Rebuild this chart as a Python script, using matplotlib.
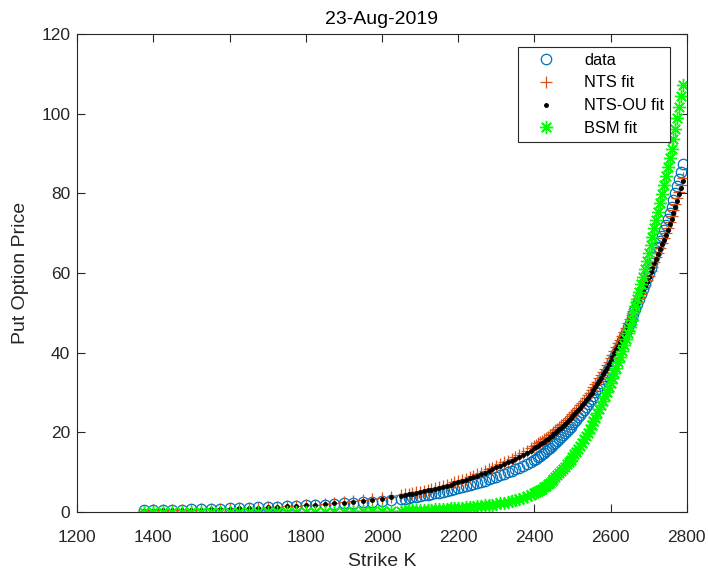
import numpy as np
import matplotlib
matplotlib.use("Agg")
import matplotlib.pyplot as plt

plt.rcParams["font.family"] = ["Liberation Sans", "DejaVu Sans"]

# Strike grid: 25-point spacing in the wings, 10 then 5 closer to the money
strikes_wing = [1375, 1400, 1425, 1450, 1475, 1500, 1525, 1550, 1575, 1600,
                1625, 1650, 1675, 1700, 1725, 1750, 1775, 1800, 1825, 1850,
                1875, 1900, 1925, 1950, 1975, 2000, 2025, 2050]
strikes_mid = list(range(2060, 2401, 10))
strikes_near = list(range(2405, 2791, 5))
strike = np.array(strikes_wing + strikes_mid + strikes_near, dtype=float)

# Market put prices
price_data = [
    0.45, 0.50, 0.54, 0.58, 0.63, 0.68, 0.74, 0.80, 0.87, 0.94,
    1.01, 1.08, 1.16, 1.25, 1.34, 1.44, 1.54, 1.65, 1.77, 1.89,
    2.02, 2.16, 2.30, 2.45, 2.61, 2.78, 2.98, 3.20,
    3.35, 3.50, 3.66, 3.83, 4.00, 4.17, 4.34, 4.52, 4.71, 4.90,
    5.10, 5.31, 5.53, 5.76, 6.00, 6.24, 6.49, 6.75, 7.02, 7.30,
    7.59, 7.89, 8.21, 8.54, 8.90, 9.24, 9.60, 9.97, 10.35, 10.75,
    11.16, 11.59, 12.04, 12.51, 13.00,
    13.36, 13.73, 14.11, 14.50, 14.90, 15.30, 15.71, 16.13, 16.56, 17.00,
    17.45, 17.91, 18.38, 18.86, 19.35, 19.86, 20.38, 20.91, 21.45, 22.00,
    22.57, 23.16, 23.77, 24.40, 25.05, 25.70, 26.37, 27.06, 27.77, 28.50,
    29.25, 30.02, 30.81, 31.63, 32.47, 33.33, 34.21, 35.12, 36.05, 37.00,
    37.97, 38.96, 39.97, 41.00, 42.05, 43.10, 44.17, 45.26, 46.37, 47.50,
    48.66, 49.84, 51.04, 52.26, 53.50, 54.76, 56.04, 57.34, 58.66, 60.00,
    61.30, 62.61, 63.93, 65.26, 66.60, 67.96, 69.33, 70.71, 72.10, 73.50,
    75.05, 76.65, 78.30, 80.00, 81.76, 83.58, 85.46, 87.40,
]

# NTS model prices
price_nts = [
    0.36, 0.40, 0.44, 0.49, 0.54, 0.59, 0.65, 0.72, 0.79, 0.87,
    0.95, 1.03, 1.12, 1.22, 1.33, 1.46, 1.59, 1.73, 1.89, 2.07,
    2.25, 2.45, 2.67, 2.92, 3.19, 3.48, 3.83, 4.24,
    4.42, 4.59, 4.77, 4.96, 5.16, 5.38, 5.60, 5.84, 6.08, 6.33,
    6.59, 6.87, 7.15, 7.45, 7.76, 8.08, 8.41, 8.76, 9.12, 9.49,
    9.88, 10.29, 10.71, 11.15, 11.61, 12.04, 12.48, 12.93, 13.40, 13.89,
    14.39, 14.91, 15.45, 16.01, 16.59,
    16.91, 17.23, 17.56, 17.90, 18.25, 18.60, 18.96, 19.33, 19.71, 20.10,
    20.50, 20.91, 21.33, 21.76, 22.20, 22.66, 23.13, 23.61, 24.10, 24.60,
    25.12, 25.66, 26.22, 26.80, 27.40, 28.00, 28.62, 29.26, 29.92, 30.60,
    31.30, 32.02, 32.76, 33.53, 34.32, 35.13, 35.96, 36.82, 37.70, 38.60,
    39.50, 40.42, 41.36, 42.32, 43.30, 44.28, 45.28, 46.30, 47.34, 48.40,
    49.44, 50.50, 51.57, 52.65, 53.74, 54.83, 55.93, 57.04, 58.16, 59.30,
    60.44, 61.60, 62.77, 63.95, 65.14, 66.34, 67.55, 68.77, 70.00, 71.25,
    72.70, 74.19, 75.71, 77.26, 78.84, 80.45, 82.09, 83.76,
]

# NTS-OU model prices
price_ntsou = [
    0.35, 0.39, 0.43, 0.48, 0.53, 0.58, 0.64, 0.71, 0.78, 0.85,
    0.93, 1.01, 1.10, 1.20, 1.31, 1.43, 1.56, 1.70, 1.86, 2.03,
    2.21, 2.40, 2.62, 2.86, 3.12, 3.40, 3.75, 4.15,
    4.31, 4.47, 4.64, 4.82, 5.00, 5.21, 5.42, 5.65, 5.88, 6.12,
    6.37, 6.64, 6.91, 7.20, 7.50, 7.81, 8.12, 8.46, 8.80, 9.16,
    9.54, 9.93, 10.33, 10.76, 11.20, 11.61, 12.03, 12.46, 12.91, 13.38,
    13.87, 14.37, 14.89, 15.43, 16.00,
    16.31, 16.63, 16.96, 17.30, 17.65, 18.00, 18.36, 18.73, 19.11, 19.50,
    19.90, 20.31, 20.73, 21.16, 21.60, 22.06, 22.53, 23.01, 23.50, 24.00,
    24.52, 25.06, 25.62, 26.20, 26.80, 27.40, 28.02, 28.66, 29.32, 30.00,
    30.70, 31.42, 32.16, 32.93, 33.72, 34.53, 35.36, 36.22, 37.10, 38.00,
    38.92, 39.86, 40.82, 41.80, 42.80, 43.80, 44.82, 45.86, 46.92, 48.00,
    49.06, 50.13, 51.21, 52.30, 53.40, 54.50, 55.61, 56.73, 57.86, 59.00,
    60.14, 61.29, 62.45, 63.62, 64.80, 65.98, 67.17, 68.37, 69.58, 70.80,
    72.22, 73.67, 75.15, 76.66, 78.20, 79.77, 81.37, 83.00,
]

# Black-Scholes-Merton prices
price_bsm = [
    0.00, 0.00, 0.00, 0.00, 0.00, 0.01, 0.01, 0.01, 0.01, 0.02,
    0.02, 0.02, 0.03, 0.03, 0.04, 0.05, 0.06, 0.07, 0.08, 0.10,
    0.12, 0.14, 0.16, 0.19, 0.22, 0.25, 0.29, 0.34,
    0.37, 0.40, 0.43, 0.46, 0.50, 0.54, 0.58, 0.62, 0.67, 0.72,
    0.78, 0.84, 0.90, 0.97, 1.05, 1.12, 1.19, 1.27, 1.36, 1.45,
    1.54, 1.65, 1.76, 1.87, 2.00, 2.18, 2.37, 2.58, 2.81, 3.06,
    3.33, 3.63, 3.95, 4.30, 4.68,
    4.92, 5.19, 5.49, 5.82, 6.18, 6.56, 6.96, 7.39, 7.84, 8.30,
    8.77, 9.26, 9.77, 10.30, 10.85, 11.40, 11.97, 12.56, 13.17, 13.80,
    14.46, 15.15, 15.87, 16.62, 17.40, 18.22, 19.07, 19.95, 20.86, 21.80,
    22.75, 23.73, 24.74, 25.78, 26.84, 27.92, 29.02, 30.15, 31.31, 32.50,
    33.72, 34.98, 36.28, 37.62, 39.00, 40.42, 41.88, 43.38, 44.92, 46.50,
    48.17, 49.88, 51.63, 53.42, 55.25, 57.12, 59.03, 60.98, 62.97, 65.00,
    67.04, 69.10, 71.19, 73.30, 75.44, 77.60, 79.79, 82.00, 84.24, 86.50,
    88.82, 91.22, 93.70, 96.26, 98.90, 101.62, 104.42, 107.30,
]

x_ticks = [1200, 1400, 1600, 1800, 2000, 2200, 2400, 2600, 2800]
y_ticks = [0, 20, 40, 60, 80, 100, 120]

fig = plt.figure(figsize=(7.08, 5.76), dpi=100)
ax = fig.add_axes([0.109, 0.111, 0.861, 0.830])

ax.plot(strike, price_data, linestyle="none", marker="o", markersize=7.5,
        markerfacecolor="none", markeredgecolor="#0072BD", markeredgewidth=0.9,
        label="data")
ax.plot(strike, price_nts, linestyle="none", marker="+", markersize=8,
        markeredgecolor="#D95319", markeredgewidth=0.9, label="NTS fit")
ax.plot(strike, price_ntsou, linestyle="none", marker=".", markersize=5,
        color="black", label="NTS-OU fit")
ax.plot(strike, price_bsm, linestyle="none", marker=(8, 2, 0), markersize=9.5,
        markeredgecolor="#00FF00", markeredgewidth=1.0, label="BSM fit")

ax.set_xlim(1200, 2800)
ax.set_ylim(0, 120)
ax.set_xticks(x_ticks)
ax.set_yticks(y_ticks)

axis_gray = "#262626"
for side in ax.spines.values():
    side.set_color(axis_gray)
    side.set_linewidth(0.8)
ax.tick_params(direction="in", top=True, right=True, length=6, width=0.8,
               color=axis_gray, labelcolor=axis_gray, labelsize=12.5, pad=5)
ax.tick_params(axis="x", pad=13)

ax.set_xlabel("Strike K", fontsize=14, color=axis_gray, labelpad=5.5)
ax.set_ylabel("Put Option Price", fontsize=14, color=axis_gray, labelpad=9)
ax.set_title("23-Aug-2019", fontsize=14, color="black", pad=7)

leg = ax.legend(loc="upper right", bbox_to_anchor=(0.972, 0.973),
                fontsize=11.8, fancybox=False, framealpha=1,
                edgecolor=axis_gray, borderpad=0.35, handlelength=2.8,
                handletextpad=0.9, labelspacing=0.48, borderaxespad=0)
leg.get_frame().set_linewidth(0.8)

fig.savefig("out.png", dpi=100)
